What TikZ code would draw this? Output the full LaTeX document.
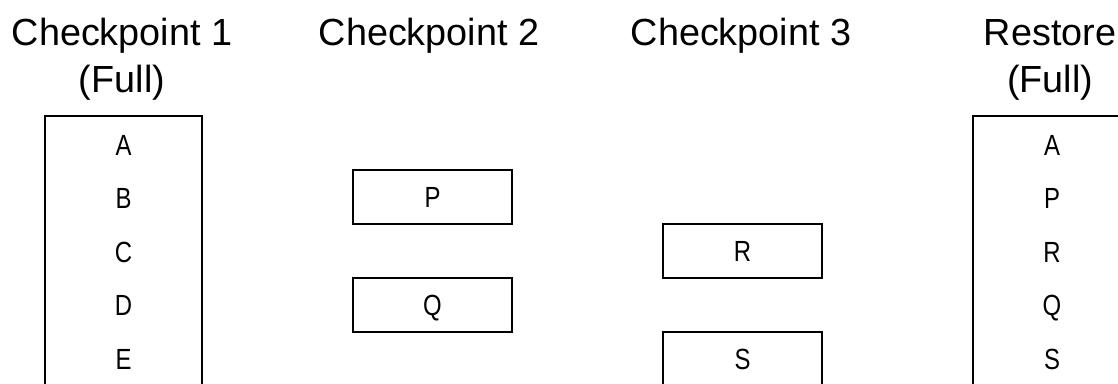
\documentclass[tikz,border=0pt]{standalone}
\usepackage{fontspec}
\setmainfont{Liberation Sans}
\newfontfamily\narrowfont[FakeStretch=0.82]{Liberation Sans}
\usepackage{tikz}
\usetikzlibrary{positioning}

\begin{document}
\begin{tikzpicture}[
  x=0.02cm, y=-0.02cm,
  title/.style={anchor=base, inner sep=0pt, font=\fontsize{21.5}{26}\selectfont},
  item/.style={anchor=center, inner sep=0pt, text height=11.9pt, text depth=0pt,
    font=\narrowfont\fontsize{16.6}{20}\selectfont},
  frame/.style={draw=black, line width=1.4pt},
  slot/.style={rectangle, draw=black, line width=1.4pt, minimum width=3.18cm,
    minimum height=1.08cm, inner sep=0pt, text height=11.9pt, text depth=0pt,
    font=\narrowfont\fontsize{16.6}{20}\selectfont},
]
\useasboundingbox (0,0) rectangle (1118,383);
\clip (0,0) rectangle (1118,383);

\def\colA{123.5}
\def\colB{432.5}
\def\colC{742.5}
\def\colD{1052}

\def\rA{145}
\def\rB{198.5}
\def\rC{252}
\def\rD{305.5}
\def\rE{359}

% Titles
\node[title] (cpA)     at (122, 45)  {Checkpoint 1};
\node[title] (cpAfull) at (122, 92)  {(Full)};
\node[title] (cpB)     at (429, 45)  {Checkpoint 2};
\node[title] (cpC)     at (741, 45)  {Checkpoint 3};
\node[title] (rs)      at (1050, 45) {Restore};
\node[title] (rsfull)  at (1050, 92) {(Full)};

% Checkpoint 1 (full)
\draw[frame] (45, 116) rectangle (202, 420);
\foreach \l/\r in {A/\rA, B/\rB, C/\rC, D/\rD, E/\rE}
  \node[item] (a\l) at (\colA, \r) {\l};

% Checkpoint 2
\node[slot] (bP) at (\colB, 197) {P};
\node[slot] (bQ) at (\colB, 305) {Q};

% Checkpoint 3
\node[slot] (cR) at (\colC, 251) {R};
\node[slot] (cS) at (\colC, 359) {S};

% Restore (full)
\draw[frame] (973, 116) rectangle (1132, 420);
\foreach \l/\r in {A/\rA, P/\rB, R/\rC, Q/\rD, S/\rE}
  \node[item] (d\l) at (\colD, \r) {\l};

\end{tikzpicture}
\end{document}
